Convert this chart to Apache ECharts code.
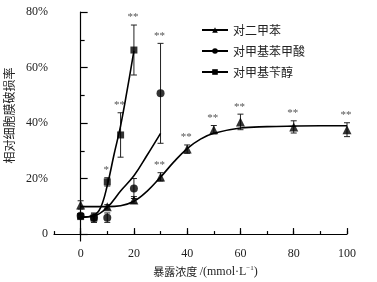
<!DOCTYPE html>
<html>
<head>
<meta charset="utf-8">
<script src="https://cdn.jsdelivr.net/npm/echarts@6/dist/echarts.min.js"></script>
<style>
  html, body { margin: 0; padding: 0; background: #fff; }
  #main { width: 377px; height: 282px; }
</style>
</head>
<body>
<div id="main"></div>
<script>
// 对二甲苯
const conc1 = [0, 10, 20, 30, 40, 50, 60, 80, 100];
const mean1 = [10.5, 9.8, 12.3, 20.6, 30.6, 37.6, 40.4, 38.6, 37.6];
const sd1 = [1.5, 0.8, 1.2, 1.5, 1.5, 1.5, 2.8, 2.2, 2.5];
const star1 = ['', '', '', '**', '**', '**', '**', '**', '**'];
const fitX1 = [0, 10, 15, 20, 25, 30, 35, 40, 45, 50, 60, 70, 80, 90, 100];
const fitY1 = [9.9, 9.9, 10.2, 11.8, 15.5, 20.5, 26, 30.8, 34.2, 36.3, 38.2, 38.7, 38.9, 39, 39];

// 对甲基苯甲酸
const conc2 = [0, 5, 10, 20, 30];
const mean2 = [6.6, 5.9, 5.9, 16.4, 50.7];
const sd2 = [0.8, 1.7, 1.7, 3.6, 18];
const star2 = ['', '', '', '', '**'];
const fitX2 = [0, 5, 10, 15, 20, 25, 30];
const fitY2 = [6.1, 6.5, 9.6, 15.5, 21, 28.5, 36.3];

// 对甲基苄醇
const conc3 = [0, 5, 10, 15, 20];
const mean3 = [6.3, 5.8, 18.8, 35.7, 66.3];
const sd3 = [0.6, 1.5, 1.5, 8, 9];
const star3 = ['', '', '*', '**', '**'];
const fitX3 = [0, 5, 7.5, 10, 12.5, 15, 17.5, 20];
const fitY3 = [6.1, 6.8, 9.5, 17.5, 28.5, 39, 52, 66];

const names = ['对二甲苯', '对甲基苯甲酸', '对甲基苄醇'];
const symbols = ['triangle', 'circle', 'rect'];
const yTicks = [0, 20, 40, 60, 80];
const yMinorTicks = [10, 30, 50, 70];
const xTicks = [0, 20, 40, 60, 80, 100];

const serif = '"Liberation Serif", "Noto Sans CJK SC", serif';
const cjk = '"Noto Sans CJK SC", "Liberation Serif", serif';

const chart = echarts.init(document.getElementById('main'));

function zip(xs, ys) { return xs.map((x, i) => [x, ys[i]]); }

function errorSeries(xs, ms, sds, stars) {
  return {
    type: 'custom',
    silent: true,
    z: 1,
    data: xs.map((x, i) => [x, ms[i] - sds[i], ms[i] + sds[i], stars[i]]),
    renderItem: function (params, api) {
      const lo = api.coord([api.value(0), api.value(1)]);
      const hi = api.coord([api.value(0), api.value(2)]);
      const w = 3;
      const style = { stroke: '#222', lineWidth: 1 };
      const children = [
        { type: 'line', shape: { x1: hi[0], y1: hi[1], x2: lo[0], y2: lo[1] }, style: style },
        { type: 'line', shape: { x1: hi[0] - w, y1: hi[1], x2: hi[0] + w, y2: hi[1] }, style: style },
        { type: 'line', shape: { x1: lo[0] - w, y1: lo[1], x2: lo[0] + w, y2: lo[1] }, style: style }
      ];
      const s = api.value(3);
      if (s) {
        children.push({
          type: 'text',
          style: {
            text: s, x: hi[0] - 1, y: hi[1] - 2,
            align: 'center', verticalAlign: 'bottom',
            fill: '#555', font: '11px ' + serif
          }
        });
      }
      return { type: 'group', children: children };
    }
  };
}

function fitSeries(idx, xs, ys) {
  return {
    name: names[idx],
    type: 'line',
    data: zip(xs, ys),
    smooth: 0.4,
    showSymbol: false,
    symbol: symbols[idx],
    symbolSize: 7,
    itemStyle: { color: '#000' },
    lineStyle: { color: '#000', width: 1.6 },
    z: 2
  };
}

function pointSeries(idx, xs, ys, size) {
  return {
    name: names[idx],
    type: 'scatter',
    data: zip(xs, ys),
    symbol: symbols[idx],
    symbolSize: size,
    itemStyle: { color: '#000' },
    z: 3
  };
}

const option = {
  backgroundColor: '#fff',
  animation: false,
  grid: { left: 54, right: 30, top: 12, bottom: 41, containLabel: false, outerBoundsMode: 'none' },
  legend: {
    orient: 'vertical',
    left: 196,
    top: 19,
    itemWidth: 26,
    itemHeight: 7,
    itemGap: 9,
    data: names,
    textStyle: { fontFamily: cjk, fontSize: 12, color: '#222' }
  },
  xAxis: [{
    type: 'value',
    min: -10,
    max: 100,
    name: '暴露浓度 {lat|/(mmol·L}{sup|−1}{lat|)}',
    nameLocation: 'middle',
    nameGap: 22,
    nameTextStyle: {
      fontFamily: cjk, fontSize: 11, color: '#222', padding: [0, 0, 0, 10],
      rich: {
        lat: { fontSize: 12, fontFamily: serif, color: '#222' },
        sup: { fontSize: 7, verticalAlign: 'top', padding: [0, 0, 6, 0], fontFamily: serif, color: '#222' }
      }
    },
    axisLine: { lineStyle: { color: '#000', width: 1.2 } },
    axisTick: { inside: true, length: 6, customValues: xTicks, lineStyle: { color: '#000', width: 1.2 } },
    axisLabel: { customValues: xTicks, fontFamily: serif, fontSize: 12, color: '#222', margin: 7 },
    splitLine: { show: false }
  }, {
    type: 'value',
    min: -10,
    max: 100,
    interval: 10,
    position: 'bottom',
    axisLine: { show: false },
    axisTick: { inside: true, length: 3, lineStyle: { color: '#000', width: 1.2 } },
    axisLabel: { show: false },
    splitLine: { show: false }
  }],
  yAxis: [{
    type: 'value',
    min: -2.5,
    max: 80,
    name: '相对细胞膜破损率',
    nameLocation: 'middle',
    nameGap: 27,
    nameTextStyle: { fontFamily: cjk, fontSize: 12, color: '#222', padding: [0, 0, 0, 22] },
    axisLine: { show: true, lineStyle: { color: '#000', width: 1.2 } },
    axisTick: { show: true, inside: true, length: 7, customValues: yTicks, lineStyle: { color: '#000', width: 1.2 } },
    axisLabel: {
      customValues: yTicks, fontFamily: serif, fontSize: 12, color: '#222', margin: 6,
      formatter: v => v === 0 ? '0' : v + '%'
    },
    splitLine: { show: false }
  }, {
    type: 'value',
    min: -2.5,
    max: 80,
    position: 'left',
    axisLine: { show: false },
    axisTick: { show: true, inside: true, length: 4, customValues: yMinorTicks, lineStyle: { color: '#000', width: 1.2 } },
    axisLabel: { show: false },
    splitLine: { show: false }
  }],
  series: [
    fitSeries(0, fitX1, fitY1),
    fitSeries(1, fitX2, fitY2),
    fitSeries(2, fitX3, fitY3),
    errorSeries(conc1, mean1, sd1, star1),
    errorSeries(conc2, mean2, sd2, star2),
    errorSeries(conc3, mean3, sd3, star3),
    pointSeries(0, conc1, mean1, 9),
    pointSeries(1, conc2, mean2, 8),
    pointSeries(2, conc3, mean3, 7)
  ]
};

chart.setOption(option);
</script>
</body>
</html>
